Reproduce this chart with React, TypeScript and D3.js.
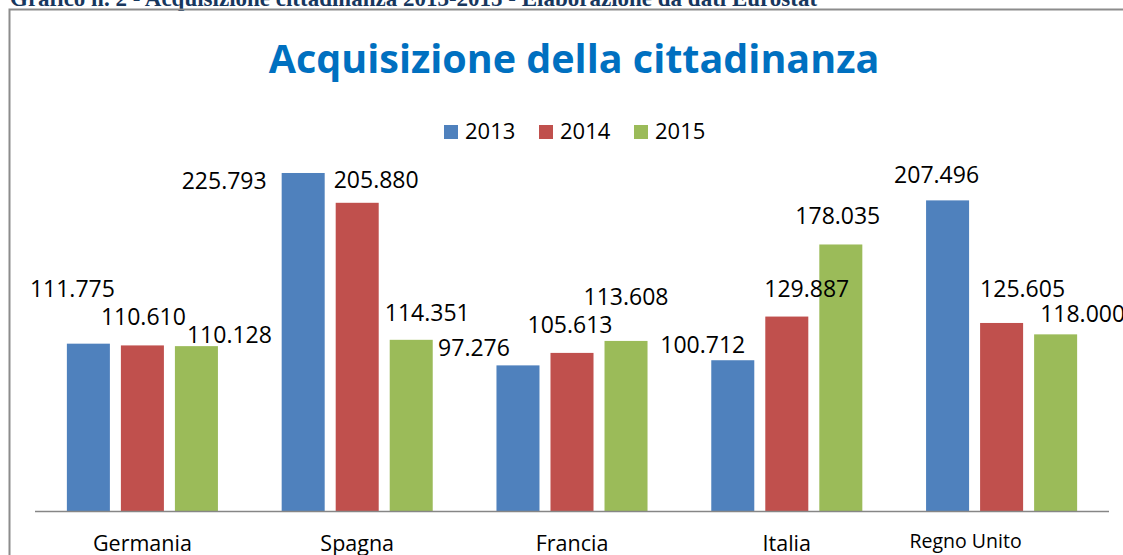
import React from 'react';
import * as d3 from 'd3';

const countries = ['Germania', 'Spagna', 'Francia', 'Italia', 'Regno Unito'];
const years = ['2013', '2014', '2015'];
const values2013 = [111775, 225793, 97276, 100712, 207496];
const values2014 = [110610, 205880, 105613, 129887, 125605];
const values2015 = [110128, 114351, 113608, 178035, 118000];
const seriesColors = ['#4F81BD', '#C0504D', '#9BBB59'];

// hand-placed data labels in the original (offset from bar centre / bar top)
const labelDx = [
  [-16, -79, -44, -30, -11],
  [1, 19, -2, 20, 21],
  [33, 16, 0, -3, 27]
];
const labelDy = [
  [-47, 16, -9, -7, -17],
  [-20, -15, -20, -20, -26],
  [-3, -19, -36, -20, -12]
];

const width = 1123;
const height = 555;
const font = "'Open Sans', sans-serif";

const App = () => {
  const series = [values2013, values2014, values2015];

  const x0 = d3
    .scaleBand()
    .domain(countries)
    .range([35, 1109])
    .paddingInner(0)
    .paddingOuter(0);

  const x1 = d3
    .scaleBand()
    .domain(years)
    .range([0, x0.bandwidth()])
    .paddingInner(0.2037)
    .paddingOuter(0.59);

  const y = d3
    .scaleLinear()
    .domain([0, 250000])
    .range([511, 136.75]);

  const fmt = d3.formatLocale({
    decimal: ',',
    thousands: '.',
    grouping: [3],
    currency: ['€', '']
  }).format(',d');

  const legendX = d3.scalePoint().domain(years).range([444, 634]);

  return (
    <div style={{ position: 'absolute', left: 0, top: 0 }}>
      <svg width={width} height={height} style={{ display: 'block' }}>
        <rect width={width} height={height} fill="#fff" />
        <text
          x={10}
          y={6}
          fontFamily="'Liberation Serif', serif"
          fontWeight="bold"
          fontSize={23}
          fill="#17375E"
        >
          Grafico n. 2 - Acquisizione cittadinanza 2013-2015 - Elaborazione da dati Eurostat
        </text>
        <rect
          x={9.5}
          y={9.5}
          width={width + 20}
          height={height + 20}
          fill="none"
          stroke="#8C8C8C"
          strokeWidth={2}
        />

        <text
          x={574}
          y={73}
          textAnchor="middle"
          fontFamily={font}
          fontWeight="bold"
          fontSize={39.5}
          fill="#0070C0"
        >
          Acquisizione della cittadinanza
        </text>

        <g className="legend" fontFamily={font} fontSize={22}>
          {years.map((yr, i) => (
            <g key={yr} transform={`translate(${legendX(yr)}, 139)`}>
              <rect x={0} y={-14} width={14} height={14} fill={seriesColors[i]} />
              <text x={21} y={0}>
                {yr}
              </text>
            </g>
          ))}
        </g>

        <g className="bars">
          {series.map((vals, si) =>
            vals.map((v, ci) => (
              <rect
                key={`${si}-${ci}`}
                x={x0(countries[ci])! + x1(years[si])!}
                y={y(v)}
                width={x1.bandwidth()}
                height={y(0) - y(v)}
                fill={seriesColors[si]}
              />
            ))
          )}
        </g>

        <line x1={35} x2={1109} y1={511.5} y2={511.5} stroke="#868686" strokeWidth={1.5} />

        <g className="labels" fontFamily={font} fontSize={23} fill="#000">
          {series.map((vals, si) =>
            vals.map((v, ci) => (
              <text
                key={`${si}-${ci}`}
                x={x0(countries[ci])! + x1(years[si])! + x1.bandwidth() / 2 + labelDx[si][ci]}
                y={y(v) + labelDy[si][ci]}
                textAnchor="middle"
              >
                {fmt(v)}
              </text>
            ))
          )}
        </g>

        <g className="categories" fontFamily={font} fill="#000">
          {countries.map((c, i) => {
            const last = i === countries.length - 1;
            return (
              <text
                key={c}
                x={x0(c)! + x0.bandwidth() / 2 + (last ? -36 : 0)}
                y={last ? 548 : 550.5}
                textAnchor="middle"
                fontSize={last ? 19.5 : 21.5}
              >
                {c}
              </text>
            );
          })}
        </g>
      </svg>
    </div>
  );
};

export default App;
